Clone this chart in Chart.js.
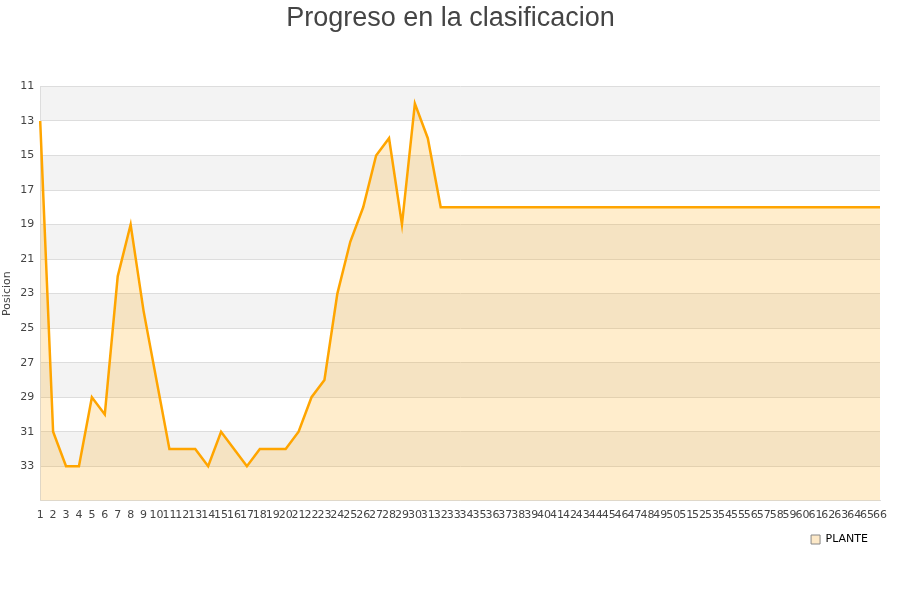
<!DOCTYPE html>
<html>
<head>
<meta charset="utf-8">
<title>Progreso en la clasificacion</title>
<script src="https://cdn.jsdelivr.net/npm/chart.js@4/dist/chart.umd.min.js"></script>
<style>
    html, body { margin: 0; padding: 0; background: #ffffff; }
    #wrap { width: 900px; height: 600px; position: relative; }
</style>
</head>
<body>
<div id="wrap"><canvas id="progressChart"></canvas></div>
<script>
// jornadas 1..66
const jornadas = [];
for (let i = 1; i <= 66; i++) {
    jornadas.push(String(i));
}

// posicion por jornada
const posiciones = [
    13, 31, 33, 33, 29, 30, 22, 19, 24, 28,
    32, 32, 32, 33, 31, 32, 33, 32, 32, 32,
    31, 29, 28, 23, 20, 18, 15, 14, 19, 12,
    14, 18, 18, 18, 18, 18, 18, 18, 18, 18,
    18, 18, 18, 18, 18, 18, 18, 18, 18, 18,
    18, 18, 18, 18, 18, 18, 18, 18, 18, 18,
    18, 18, 18, 18, 18, 18
];

const yTicks = [11, 13, 15, 17, 19, 21, 23, 25, 27, 29, 31, 33, 35];
const grayBands = [[11, 13], [15, 17], [19, 21], [23, 25], [27, 29], [31, 33]];

// alternating background stripes behind the plot
const bandPlugin = {
    id: 'bands',
    beforeDraw(chart) {
        const { ctx, chartArea, scales } = chart;
        ctx.save();
        ctx.fillStyle = '#f3f3f3';
        grayBands.forEach(([from, to]) => {
            const top = scales.y.getPixelForValue(from);
            const bottom = scales.y.getPixelForValue(to);
            ctx.fillRect(chartArea.left, top, chartArea.right - chartArea.left, bottom - top);
        });
        ctx.restore();
    }
};

new Chart(document.getElementById('progressChart'), {
    type: 'line',
    data: {
        labels: jornadas,
        datasets: [
            {
                label: 'PLANTE',
                data: posiciones,
                borderColor: '#ffa500',
                backgroundColor: 'rgba(255, 165, 0, 0.2)',
                borderWidth: 2.5,
                fill: 'start',
                tension: 0,
                pointRadius: 0,
                pointHoverRadius: 0,
            }
        ]
    },
    options: {
        responsive: true,
        maintainAspectRatio: false,
        animation: false,
        layout: {
            padding: { top: 0, right: 0, bottom: 45, left: 1 }
        },
        plugins: {
            title: {
                display: true,
                text: 'Progreso en la clasificacion',
                color: '#444444',
                font: { family: '"Liberation Sans", Arial, sans-serif', size: 27, weight: 'normal' },
                padding: { top: 2, bottom: 52 }
            },
            legend: {
                position: 'bottom',
                align: 'end',
                fullSize: false,
                labels: {
                    color: '#222222',
                    font: { family: 'DejaVu Sans', size: 11 },
                    boxWidth: 9,
                    boxHeight: 9,
                    padding: 12,
                    generateLabels: (chart) => [{
                        text: 'PLANTE',
                        fillStyle: '#fde9c8',
                        strokeStyle: '#888888',
                        lineWidth: 1,
                        datasetIndex: 0,
                    }]
                }
            },
            tooltip: { enabled: false }
        },
        scales: {
            x: {
                offset: false,
                grid: { display: false },
                border: { color: '#dddddd' },
                ticks: {
                    autoSkip: false,
                    maxRotation: 0,
                    minRotation: 0,
                    padding: 0,
                    color: '#444444',
                    font: { family: 'DejaVu Sans', size: 11 }
                }
            },
            y: {
                reverse: true,
                min: 11,
                max: 35,
                afterBuildTicks: (scale) => {
                    scale.ticks = yTicks.map((value) => ({ value }));
                },
                grid: { color: '#dddddd', drawTicks: false },
                border: { color: '#dddddd' },
                ticks: {
                    padding: 6,
                    color: '#444444',
                    font: { family: 'DejaVu Sans', size: 11 },
                    callback: (value) => (value === 35 ? '' : value)
                },
                title: {
                    display: true,
                    text: 'Posicion',
                    color: '#444444',
                    font: { family: 'DejaVu Sans', size: 11 },
                    padding: 0
                }
            },
            // empty right gutter so the title stays centred on the page
            gutter: {
                position: 'right',
                grid: { display: false },
                border: { display: false },
                ticks: { display: false },
                afterFit: (scale) => {
                    scale.width = 20;
                }
            }
        }
    },
    plugins: [bandPlugin]
});
</script>
</body>
</html>
